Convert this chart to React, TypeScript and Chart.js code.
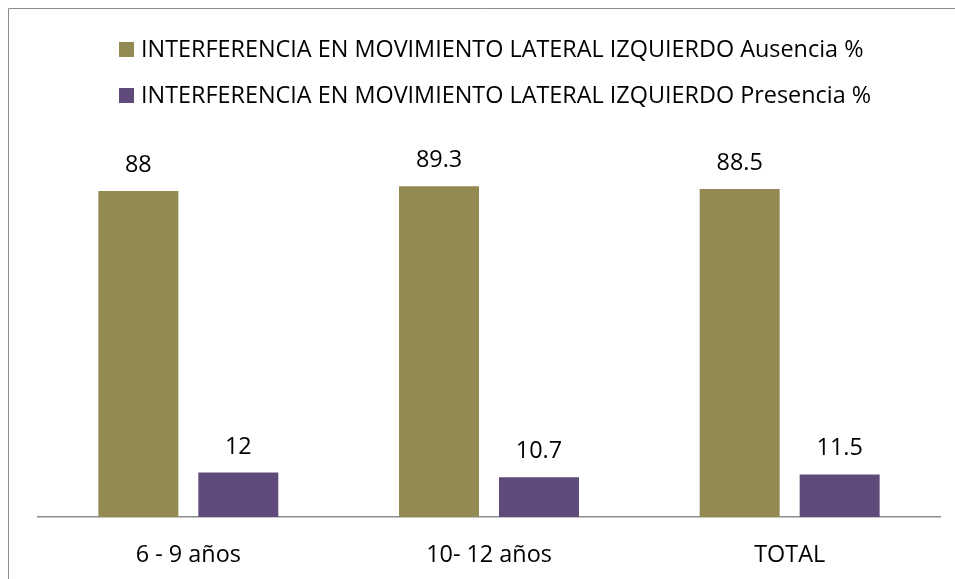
import React, { useEffect, useRef } from "react";
import { Chart, registerables } from "chart.js";

Chart.register(...registerables);

const categories = ["6 - 9 años", "10- 12 años", "TOTAL"];
const seriesLabels = [
  "INTERFERENCIA EN MOVIMIENTO LATERAL IZQUIERDO Ausencia %",
  "INTERFERENCIA EN MOVIMIENTO LATERAL IZQUIERDO Presencia %",
];
const ausencia = [88, 89.3, 88.5];
const presencia = [12, 10.7, 11.5];
const colors = ["#938953", "#604A7B"];

const FONT_FAMILY = "'Open Sans', 'Noto Sans', sans-serif";
const FONT_SIZE = 23.4;

const customPlugin = {
  id: "custom",
  afterDraw(chart: any) {
    const ctx = chart.ctx;
    ctx.save();
    // border (left and top edges; right/bottom fall outside the view)
    ctx.strokeStyle = "#8c8c8c";
    ctx.lineWidth = 1;
    ctx.beginPath();
    ctx.moveTo(0.5, chart.height);
    ctx.lineTo(0.5, 0.5);
    ctx.lineTo(chart.width, 0.5);
    ctx.stroke();
    // legend
    ctx.font = `${FONT_SIZE}px ${FONT_FAMILY}`;
    ctx.textBaseline = "alphabetic";
    ctx.textAlign = "left";
    const rowsY = [49, 95];
    seriesLabels.forEach((lbl, i) => {
      ctx.fillStyle = colors[i];
      ctx.fillRect(111, rowsY[i] - 15, 15, 15);
      ctx.fillStyle = "#000";
      ctx.fillText(lbl, 133, rowsY[i]);
    });
    // data labels
    ctx.textAlign = "center";
    chart.data.datasets.forEach((ds: any, di: number) => {
      const meta = chart.getDatasetMeta(di);
      meta.data.forEach((bar: any, j: number) => {
        ctx.fillText(String(ds.data[j]), bar.x, bar.y - 19);
      });
    });
    ctx.restore();
  },
};

export default function App() {
  const ref = useRef<HTMLCanvasElement>(null);
  useEffect(() => {
    document.documentElement.style.overflow = "hidden";
    document.body.style.overflow = "hidden";
    const chart = new Chart(ref.current!, {
      type: "bar",
      data: {
        labels: categories,
        datasets: [
          { label: seriesLabels[0], data: ausencia, backgroundColor: colors[0] },
          { label: seriesLabels[1], data: presencia, backgroundColor: colors[1] },
        ],
      },
      options: {
        animation: false,
        responsive: false,
        layout: { padding: { left: 30, right: 15, top: 138.5, bottom: 15 } },
        plugins: { legend: { display: false }, tooltip: { enabled: false } },
        datasets: { bar: { categoryPercentage: 0.665, barPercentage: 0.8 } },
        scales: {
          y: { display: false, min: 0, max: 100 },
          x: {
            grid: { display: false, drawTicks: false },
            border: { display: true, color: "#8c8c8c", width: 1.5 },
            ticks: {
              color: "#000",
              padding: 24,
              font: { family: FONT_FAMILY, size: FONT_SIZE },
            },
            afterFit(scale: any) {
              scale.height = 47;
            },
          },
        },
      },
      plugins: [customPlugin],
    });
    return () => chart.destroy();
  }, []);
  return (
    <div style={{ position: "absolute", left: 8, top: 8, width: 947, height: 571, overflow: "hidden" }}>
      <canvas
        ref={ref}
        width={947}
        height={571}
        style={{ display: "block", width: "947px", height: "571px" }}
      />
    </div>
  );
}
